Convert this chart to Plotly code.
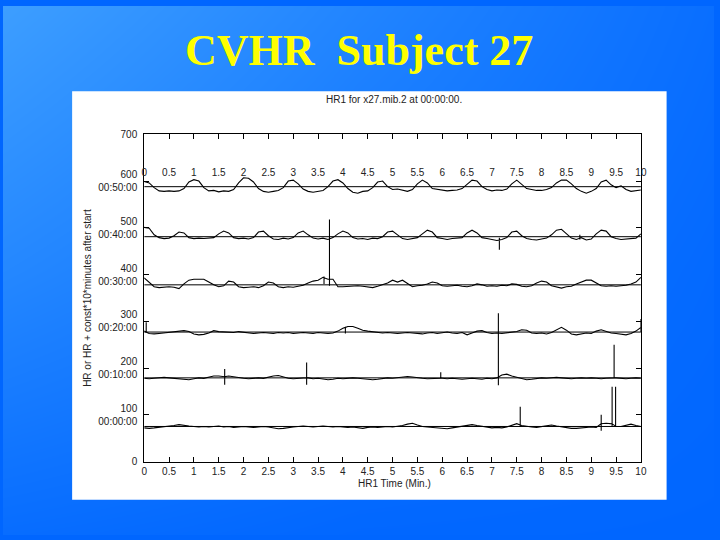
import numpy as np
import plotly.graph_objects as go

# ---------------- data ----------------
minutes = np.linspace(0, 10, 101)          # sample times, min
x_ticks = [i * 0.5 for i in range(21)]
x_tick_text = ["0", "0.5", "1", "1.5", "2", "2.5", "3", "3.5", "4", "4.5", "5",
               "5.5", "6", "6.5", "7", "7.5", "8", "8.5", "9", "9.5", "10"]
y_ticks = [0, 100, 200, 300, 400, 500, 600, 700]
y_tick_text = ["0", "100<br>00:00:00", "200<br>00:10:00", "300<br>00:20:00",
               "400<br>00:30:00", "500<br>00:40:00", "600<br>00:50:00", "700"]

# baseline (offset) of each 10-minute strip
base_0000 = 75
base_0010 = 179
base_0020 = 277
base_0030 = 378
base_0040 = 481
base_0050 = 588

# deviations from the baseline, every 0.1 min
dev_0050 = [11, 8, -2, -9, -10, -9, -10, -9, -4, 10,
            15, 12, -2, -9, -8, -11, -9, -10, -6, 8,
            19, 18, 10, -4, -10, -12, -10, -8, -2, 12,
            14, 6, -5, -10, -12, -10, -8, 0, 12, 15,
            8, -4, -12, -14, -10, -9, -2, 10, 12, 0,
            -6, -5, -7, -10, -6, 6, 14, 8, -4, -6,
            -8, -9, -8, -7, -4, 6, 14, 12, 0, -6,
            -9, -7, -8, -5, 6, 14, 6, -4, -6, -8,
            -8, -6, -2, 8, 14, 14, 6, -4, -10, -14,
            -10, -4, 10, 14, 4, -2, 2, -6, -10, -8,
            -7]
dev_0040 = [20, 18, 4, -2, -4, -3, 2, 10, 8, -2,
            -4, -3, -4, -3, -2, 6, 12, 8, -2, -4,
            -3, -5, -2, 10, 12, 2, -5, -6, -3, -5,
            -2, 8, 12, 4, -3, -5, -3, -6, -2, 6,
            12, 8, -2, -5, -4, -6, -3, -4, 0, 10,
            12, 4, -4, -6, -4, -2, 6, 14, 10, -2,
            -4, -6, -4, -3, -2, 8, 14, 8, -2, -4,
            -6, -8, -6, -2, 10, 12, 2, -4, -6, -7,
            -5, -3, 4, 14, 16, 6, -3, -6, -2, -7,
            -5, 6, 14, 12, 0, -4, -6, -5, -4, -3,
            6]
dev_0030 = [15, 6, -4, -6, -5, -4, -5, -8, 2, 10,
            12, 12, 12, 6, 0, -4, -2, 8, 6, -4,
            -6, -5, -4, -6, -2, 6, 4, -4, -6, -4,
            -5, -3, -1, 4, 8, 10, 16, 12, 12, -4,
            -4, -3, -2, -2, -3, -4, -6, -3, 0, 4,
            10, 6, 10, 2, -4, -2, -1, 2, 6, 4,
            -2, -3, -2, -1, -3, -4, -2, 2, 0, -3,
            -2, -3, -1, -2, 2, 1, -3, -4, -2, 4,
            8, 6, -2, -5, -7, -4, -3, 2, 6, 10,
            10, 4, -2, -3, -2, -3, -2, -1, 2, 6,
            16]
dev_0020 = [2, -3, -4, -3, -2, -1, 0, 2, 3, 1,
            -4, -6, -5, -2, 3, 1, 0, 0, -1, 1,
            0, -1, -3, -2, -1, -2, -3, -1, -2, -1,
            -3, -2, -1, -2, -3, -1, -2, -3, -2, 2,
            8, 12, 12, 8, 4, 2, 1, -1, -2, -1,
            -2, -3, -2, -1, -2, -3, -4, -2, -1, -3,
            -2, 0, -2, -3, -1, -6, -2, 2, 3, -1,
            -3, -2, -3, -2, -1, 1, 5, 4, -2, -3,
            -2, -4, -1, 4, 10, 4, -4, -6, -4, -2,
            -3, 2, 5, 2, -2, -3, -4, -6, -3, 2,
            10]
dev_0010 = [-1, -2, -1, 0, 1, 0, -1, -2, -3, -4,
            -2, 0, -1, 1, 4, 4, 2, 4, 2, 0,
            -1, -2, -1, 0, -1, 2, 4, 5, 2, -1,
            -2, -1, 0, 0, -2, -1, -2, -4, -3, -1,
            -2, -1, 0, -1, -2, -2, -4, -3, -1, 0,
            -1, 0, 2, 3, 2, 0, -1, -2, -1, 0,
            -1, -2, -1, -2, -3, -2, -1, -2, -3, -1,
            -2, 0, 6, 8, 4, 1, -2, -4, -3, -1,
            0, -1, 0, 1, 0, -1, -2, -1, 0, -1,
            0, -1, -2, -1, 0, 0, -1, -2, -1, 0,
            -1]
dev_0000 = [-3, -4, -3, -2, 0, 1, 2, 4, 2, 1,
            0, -1, 0, -1, 0, 1, -1, 0, -2, -1,
            0, -1, -2, -1, 0, -1, -3, -5, -4, -2,
            -1, 0, 1, 0, -1, 0, 1, 0, -1, 0,
            -1, -2, -1, -3, -4, -2, -1, -2, -1, 0,
            -1, 0, 2, 5, 7, 3, 0, -1, -2, -3,
            -4, -5, -3, -1, 0, 2, 4, 2, 0, -2,
            -3, -2, -3, -1, 2, 6, 2, 0, -1, -2,
            0, 1, 3, 1, -1, -3, -4, -4, -3, -2,
            -1, -2, 6, 7, 7, 0, 0, 2, 5, 2,
            0]

# artefact spikes: (time, top deviation, bottom deviation)
spikes_0050 = []
spikes_0040 = [(7.15, -2, -28), (8.77, 4, -6)]
spikes_0030 = [(3.62, 18, 2), (3.73, 140, -2)]
spikes_0020 = [(0.04, 21, 0), (4.05, 10, -3), (10.0, 28, 0)]
spikes_0010 = [(1.62, 19, -15), (3.27, 33, -15), (5.97, 12, -2),
               (7.13, 138, -16), (9.46, 71, 0)]
spikes_0000 = [(7.57, 42, 0), (9.2, 25, -9), (9.42, 85, 0), (9.49, 85, 0)]

strips = [
    (base_0000, dev_0000, spikes_0000),
    (base_0010, dev_0010, spikes_0010),
    (base_0020, dev_0020, spikes_0020),
    (base_0030, dev_0030, spikes_0030),
    (base_0040, dev_0040, spikes_0040),
    (base_0050, dev_0050, spikes_0050),
]


def build(base, dev, spikes):
    pts = [(float(t), 0, v) for t, v in zip(minutes, dev)]
    for (t, up, dn) in spikes:
        yi = float(np.interp(t, minutes, dev))
        pts += [(t, 1, yi), (t, 2, up), (t, 3, dn), (t, 4, yi)]
    pts.sort(key=lambda p: (p[0], p[1]))
    return [p[0] for p in pts], [base + p[2] for p in pts]


# ---------------- figure ----------------
W, H = 720, 540
fig = go.Figure()

# slide background gradient + white panel (decoration, background axes)
fig.add_trace(go.Heatmap(
    x=[0, 360, 720], y=[0, 270, 540],
    z=[[1.0, 0.55, 0.15], [0.6, 0.28, 0.06], [0.12, 0.02, 0.0]],
    colorscale=[[0, "#0066ff"], [1, "#3d9eff"]], zsmooth="best",
    showscale=False, hoverinfo="skip", xaxis="x", yaxis="y"))
fig.add_trace(go.Scatter(
    x=[70, 672, 672, 70, 70], y=[87, 87, 504, 504, 87], mode="lines",
    fill="toself", fillcolor="white", line=dict(width=0, color="white"),
    hoverinfo="skip", xaxis="x", yaxis="y"))

for base, dev, spikes in strips:
    fig.add_trace(go.Scatter(
        x=[0, 10], y=[base, base], mode="lines",
        line=dict(color="black", width=1), hoverinfo="skip",
        xaxis="x2", yaxis="y2"))
    xs, ys = build(base, dev, spikes)
    fig.add_trace(go.Scatter(
        x=xs, y=ys, mode="lines", line=dict(color="black", width=1.1),
        xaxis="x2", yaxis="y2"))

# carrier for the inner row of minute labels
fig.add_trace(go.Scatter(x=[0, 10], y=[0, 0], mode="none", hoverinfo="skip",
                         xaxis="x3", yaxis="y2"))

tick_font = dict(family="Liberation Sans, Arial, sans-serif", size=10, color="#222")

fig.update_layout(
    width=W, height=H, margin=dict(l=0, r=0, t=0, b=0),
    paper_bgcolor="#0066ff", plot_bgcolor="white", showlegend=False,
    xaxis=dict(domain=[0, 1], range=[0, W], visible=False, fixedrange=True),
    yaxis=dict(domain=[0, 1], range=[H, 0], visible=False, fixedrange=True),
    xaxis2=dict(domain=[143 / W, 646 / W], anchor="y2", range=[0, 10],
                tickvals=x_ticks, ticktext=x_tick_text, ticks="inside",
                ticklen=5, tickcolor="black", showline=True, linecolor="black",
                linewidth=1, mirror="ticks", showgrid=False, zeroline=False,
                tickfont=tick_font),
    yaxis2=dict(domain=[1 - 465 / H, 1 - 131 / H], anchor="x2", range=[0, 700],
                tickvals=y_ticks, ticktext=y_tick_text, ticks="inside",
                ticklen=5, tickcolor="black", showline=True, linecolor="black",
                linewidth=1, mirror="ticks", showgrid=False, zeroline=False,
                tickfont=tick_font, ticklabelstandoff=4),
    xaxis3=dict(overlaying="x2", anchor="free", position=1 - 176 / H,
                side="top", range=[0, 10], tickvals=x_ticks,
                ticktext=x_tick_text, ticks="", showline=False,
                showgrid=False, zeroline=False, tickfont=tick_font),
)

annots = [
    dict(text="CVHR\u00a0 Subject 27", x=361 / W, y=1 - 45 / H,
         font=dict(family="Liberation Serif, Times New Roman, serif", size=44,
                   color="#ffff00", weight="bold")),
    dict(text="HR1 for x27.mib.2 at 00:00:00.", x=396 / W, y=1 - 95 / H,
         font=tick_font),
    dict(text="HR1 Time (Min.)", x=396 / W, y=1 - 487 / H, font=tick_font),
    dict(text="HR or HR + const*10*minutes after start", x=86 / W,
         y=1 - 298 / H, textangle=-90, font=tick_font),
]
for a in annots:
    fig.add_annotation(xref="paper", yref="paper", showarrow=False,
                       xanchor="center", yanchor="middle", **a)

fig.write_html(
    "out.html",
    config={"displayModeBar": False},
    post_script="document.body.style.margin='0';"
                "document.body.style.background='#0066ff';")
